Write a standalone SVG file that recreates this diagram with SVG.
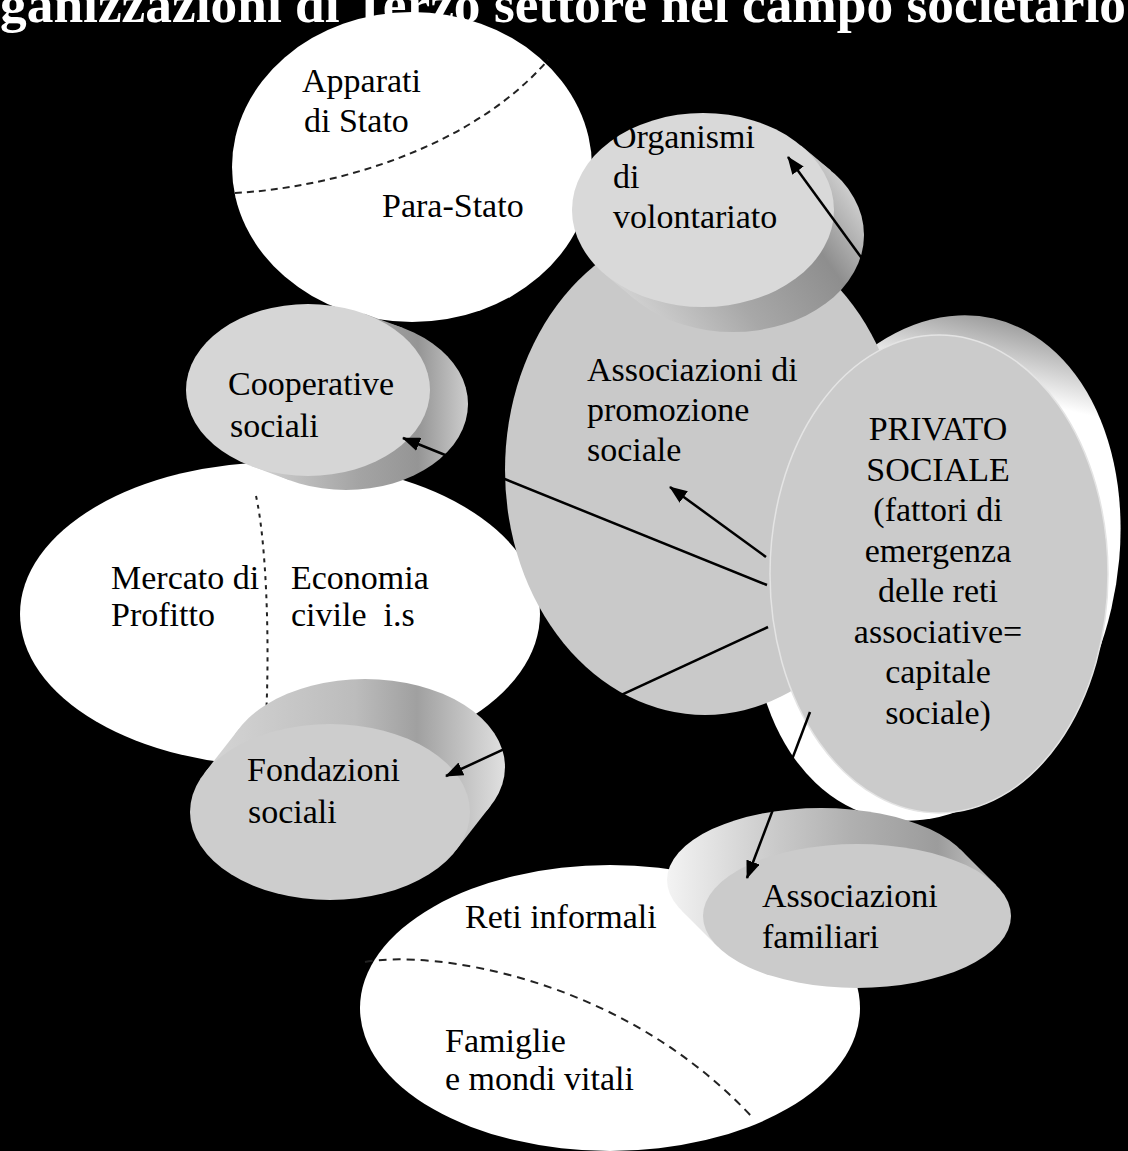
<svg xmlns="http://www.w3.org/2000/svg" width="1128" height="1151" viewBox="0 0 1128 1151">
<defs>
<style>
.t{font-family:"Liberation Serif","Times New Roman",serif;font-size:34px;fill:#000}
.title{font-family:"Liberation Serif","Times New Roman",serif;font-size:52px;font-weight:bold;fill:#fff}
.dash{fill:none;stroke:#222;stroke-width:2}
.conn{stroke:#000;stroke-width:2.5;fill:none;marker-end:url(#ah)}
.white{fill:#fff}
</style>
<marker id="ah" viewBox="0 0 18 14" refX="17" refY="7" markerWidth="18" markerHeight="14" markerUnits="userSpaceOnUse" orient="auto">
<path d="M0,0 L18,7 L0,14 z" fill="#000"/>
</marker>
<linearGradient id="gOrg" gradientUnits="userSpaceOnUse" x1="620" y1="320" x2="860" y2="150">
<stop offset="0" stop-color="#dadada"/><stop offset="0.37" stop-color="#a8a8a8"/><stop offset="0.69" stop-color="#8e8e8e"/><stop offset="0.96" stop-color="#e2e2e2"/>
</linearGradient>
<linearGradient id="gCoop" gradientUnits="userSpaceOnUse" x1="250" y1="0" x2="490" y2="0">
<stop offset="0" stop-color="#d4d4d4"/><stop offset="0.45" stop-color="#a4a4a4"/><stop offset="0.7" stop-color="#959595"/><stop offset="1" stop-color="#e6e6e6"/>
</linearGradient>
<linearGradient id="gFond" gradientUnits="userSpaceOnUse" x1="200" y1="0" x2="510" y2="0">
<stop offset="0" stop-color="#d6d6d6"/><stop offset="0.5" stop-color="#bcbcbc"/><stop offset="0.7" stop-color="#a0a0a0"/><stop offset="1" stop-color="#e4e4e4"/>
</linearGradient>
<linearGradient id="gFam" gradientUnits="userSpaceOnUse" x1="665" y1="0" x2="975" y2="0">
<stop offset="0" stop-color="#f4f4f4"/><stop offset="0.3" stop-color="#d0d0d0"/><stop offset="0.6" stop-color="#b0b0b0"/><stop offset="0.88" stop-color="#9c9c9c"/><stop offset="1" stop-color="#b8b8b8"/>
</linearGradient>
<linearGradient id="gPriv" gradientUnits="userSpaceOnUse" x1="0" y1="313" x2="0" y2="385">
<stop offset="0" stop-color="#a0a0a0"/><stop offset="1" stop-color="#ffffff"/>
</linearGradient>
</defs>

<rect x="0" y="0" width="1128" height="1151" fill="#000"/>
<text class="title" x="0" y="22" textLength="1126" lengthAdjust="spacingAndGlyphs">ganizzazioni di Terzo settore nel campo societario</text>

<g id="apparati">
<ellipse class="white" cx="412" cy="167" rx="180" ry="155"/>
<path class="dash" stroke-dasharray="7 5" d="M235,193 C330,188 470,150 548,60"/>
<text class="t" x="302" y="92">Apparati</text>
<text class="t" x="304" y="132">di Stato</text>
<text class="t" x="382" y="217">Para-Stato</text>
</g>

<g id="mercato">
<ellipse class="white" cx="280" cy="614" rx="260" ry="152"/>
<path class="dash" stroke-dasharray="4 5" d="M256,496 C266,540 270,640 266,718"/>
<text class="t" x="111" y="589">Mercato di</text>
<text class="t" x="111" y="626">Profitto</text>
<text class="t" x="291" y="589">Economia</text>
<text class="t" x="291" y="626" xml:space="preserve">civile  i.s</text>
</g>

<g id="reti">
<ellipse class="white" cx="610" cy="1008" rx="250" ry="143"/>
<path class="dash" stroke-dasharray="8 6" d="M365,962 C430,950 620,975 753,1118"/>
<text class="t" x="465" y="928">Reti informali</text>
<text class="t" x="445" y="1052">Famiglie</text>
<text class="t" x="445" y="1090">e mondi vitali</text>
</g>

<g id="privato-back">
<ellipse cx="936" cy="568" rx="180" ry="256" transform="rotate(13 936 568)" fill="url(#gPriv)"/>
</g>

<g id="promozione">
<ellipse cx="705" cy="470" rx="200" ry="245" fill="#c9c9c9"/>
<text class="t" x="587" y="381">Associazioni di</text>
<text class="t" x="587" y="421">promozione</text>
<text class="t" x="587" y="461">sociale</text>
</g>

<g id="organismi">
<g fill="url(#gOrg)">
<ellipse cx="733" cy="235" rx="131" ry="97"/>
<polygon points="800.9,145.6 605.1,274.4 635.1,299.4 830.9,170.6"/>
</g>
<ellipse cx="703" cy="210" rx="131" ry="97" fill="#d9d9d9"/>
<text class="t" x="612" y="148">Organismi</text>
<text class="t" x="613" y="188">di</text>
<text class="t" x="613" y="228">volontariato</text>
</g>

<g id="privato">
<ellipse cx="939" cy="574" rx="169" ry="239" fill="#cbcbcb" stroke="#e4e4e4" stroke-width="1.5"/>
<g class="t" text-anchor="middle">
<text x="938" y="440">PRIVATO</text>
<text x="938" y="481">SOCIALE</text>
<text x="938" y="521">(fattori di</text>
<text x="938" y="562">emergenza</text>
<text x="938" y="602">delle reti</text>
<text x="938" y="643">associative=</text>
<text x="938" y="683">capitale</text>
<text x="938" y="724">sociale)</text>
</g>
</g>

<g id="cooperative">
<g fill="url(#gCoop)">
<ellipse cx="346" cy="404" rx="122" ry="86"/>
<polygon points="364.5,313.8 251.5,466.2 289.5,480.2 402.5,327.8"/>
</g>
<ellipse cx="308" cy="390" rx="122" ry="86" fill="#d6d6d6"/>
<text class="t" x="228" y="395">Cooperative</text>
<text class="t" x="230" y="437">sociali</text>
</g>

<g id="fondazioni">
<g fill="url(#gFond)">
<ellipse cx="365" cy="767" rx="140" ry="88"/>
<polygon points="204.2,773.4 455.8,850.6 490.8,805.6 239.2,728.4"/>
</g>
<ellipse cx="330" cy="812" rx="140" ry="88" fill="#cdcdcd"/>
<text class="t" x="247" y="781">Fondazioni</text>
<text class="t" x="248" y="823">sociali</text>
</g>

<g id="familiari">
<g fill="url(#gFam)">
<ellipse cx="821" cy="880" rx="154" ry="72"/>
<polygon points="717.5,946.5 996.5,885.5 960.5,849.5 681.5,910.5"/>
</g>
<ellipse cx="857" cy="916" rx="154" ry="72" fill="#cbcbcb"/>
<text class="t" x="762" y="907">Associazioni</text>
<text class="t" x="762" y="948">familiari</text>
</g>

<g id="connectors">
<line class="conn" x1="866" y1="264" x2="788" y2="157"/>
<line class="conn" x1="767" y1="585" x2="403" y2="438"/>
<line class="conn" x1="766" y1="557" x2="670" y2="487"/>
<line class="conn" x1="768" y1="627" x2="446" y2="776"/>
<line class="conn" x1="810" y1="712" x2="747" y2="878"/>
</g>
</svg>
